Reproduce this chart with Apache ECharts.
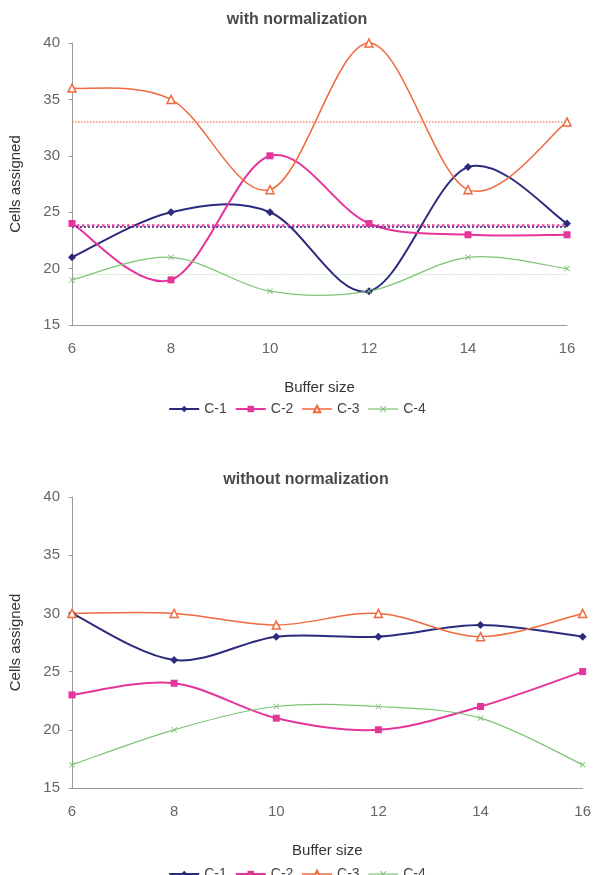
<!DOCTYPE html>
<html>
<head>
<meta charset="utf-8">
<script src="https://cdn.jsdelivr.net/npm/echarts@6/dist/echarts.min.js"></script>
<style>
  html, body { margin: 0; padding: 0; background: #fff; }
  #chart { width: 594px; height: 875px; }
</style>
</head>
<body>
<div id="chart"></div>
<script>
// buffer sizes on the x axis
const bufferSizes = [6, 8, 10, 12, 14, 16];
const seriesNames = ["C-1", "C-2", "C-3", "C-4"];

// with normalization
const withC1 = [21, 25, 25, 18, 29, 24];
const withC2 = [24, 19, 30, 24, 23, 23];
const withC3 = [36, 35, 27, 40, 27, 33];
const withC4 = [19, 21, 18, 18, 21, 20];

// without normalization
const withoutC1 = [30, 26, 28, 28, 29, 28];
const withoutC2 = [23, 24, 21, 20, 22, 25];
const withoutC3 = [30, 30, 29, 30, 28, 30];
const withoutC4 = [17, 20, 22, 22, 21, 17];

const colors = ["#2b2a7c", "#e6359a", "#ef6a3e", "#7cc474"];
const lineWidths = [2, 2, 1.5, 1.2];
const crossPath = "path://M0,1L1,0L5,4L9,0L10,1L6,5L10,9L9,10L5,6L1,10L0,9L4,5Z";
const font = "Liberation Sans, Arial, sans-serif";

function pairs(values) {
  return bufferSizes.map((x, i) => [x, values[i]]);
}

// spline like the spreadsheet one (catmull-rom), drawn segment by segment
function splineRenderer(values, color, width) {
  const n = values.length;
  const clamp = k => Math.max(0, Math.min(n - 1, k));
  return function (params, api) {
    const i = params.dataIndex;
    if (i >= n - 1) return null;
    const p = k => api.coord([bufferSizes[clamp(k)], values[clamp(k)]]);
    const p0 = p(i - 1), p1 = p(i), p2 = p(i + 1), p3 = p(i + 2);
    return {
      type: "bezierCurve",
      shape: {
        x1: p1[0], y1: p1[1],
        x2: p2[0], y2: p2[1],
        cpx1: p1[0] + (p2[0] - p0[0]) / 6,
        cpy1: p1[1] + (p2[1] - p0[1]) / 6,
        cpx2: p2[0] - (p3[0] - p1[0]) / 6,
        cpy2: p2[1] - (p3[1] - p1[1]) / 6
      },
      style: { stroke: color, lineWidth: width, fill: null },
      silent: true
    };
  };
}

// markers (line series with hidden line) + the curve as a custom series
function makeSeries(idx, values, axis, showAvg) {
  const styles = [
    { symbol: "diamond", symbolSize: 8, item: { color: colors[0] } },
    { symbol: "rect", symbolSize: 7, item: { color: colors[1] } },
    { symbol: "triangle", symbolSize: 8,
      item: { color: "#fff", borderColor: colors[2], borderWidth: 1.5 } },
    { symbol: crossPath, symbolSize: 6, item: { color: colors[3] } }
  ];
  const s = styles[idx];
  const avgWidth = [2, 2.5, 1.5, 1.2];
  const avgOpacity = [0.8, 0.9, 0.8, 0.5];
  const marks = {
    name: seriesNames[idx],
    type: "line",
    xAxisIndex: axis,
    yAxisIndex: axis,
    symbol: s.symbol,
    symbolSize: s.symbolSize,
    showSymbol: true,
    lineStyle: { color: colors[idx], width: lineWidths[idx], opacity: 0 },
    itemStyle: s.item,
    data: pairs(values),
    z: 5 + idx
  };
  if (showAvg) {
    marks.markLine = {
      silent: true,
      symbol: "none",
      label: { show: false },
      lineStyle: {
        color: colors[idx],
        type: "dotted",
        width: avgWidth[idx],
        opacity: avgOpacity[idx]
      },
      data: [{ type: "average" }]
    };
  }
  const curve = {
    name: seriesNames[idx],
    type: "custom",
    coordinateSystem: "cartesian2d",
    xAxisIndex: axis,
    yAxisIndex: axis,
    renderItem: splineRenderer(values, colors[idx], lineWidths[idx]),
    data: pairs(values),
    z: 2 + idx
  };
  return [marks, curve];
}

function xAxisFor(gridIndex) {
  return {
    type: "value",
    gridIndex: gridIndex,
    min: 6,
    max: 16,
    interval: 2,
    name: "Buffer size",
    nameLocation: "middle",
    nameGap: 55,
    nameTextStyle: { fontFamily: font, fontSize: 15, color: "#333" },
    axisLine: { show: true, lineStyle: { color: "#9a9a9a", width: 1 } },
    axisTick: { show: false },
    splitLine: { show: false },
    axisLabel: { fontFamily: font, fontSize: 15, color: "#666", margin: 16 }
  };
}

function yAxisFor(gridIndex) {
  return {
    type: "value",
    gridIndex: gridIndex,
    min: 15,
    max: 40,
    interval: 5,
    name: "Cells assigned",
    nameLocation: "middle",
    nameGap: 49,
    nameTextStyle: { fontFamily: font, fontSize: 15, color: "#333" },
    axisLine: { show: true, lineStyle: { color: "#9a9a9a", width: 1 } },
    axisTick: { show: true, length: 3, lineStyle: { color: "#9a9a9a" } },
    splitLine: { show: false },
    axisLabel: { fontFamily: font, fontSize: 15, color: "#666", margin: 12 }
  };
}

function legendFor(top) {
  return {
    data: seriesNames.map((name, i) => ({
      name: name,
      lineStyle: { color: colors[i], width: lineWidths[i], opacity: 1 }
    })),
    top: top,
    left: "center",
    itemWidth: 30,
    itemHeight: 8,
    itemGap: 8,
    textStyle: { fontFamily: font, fontSize: 14, color: "#444" }
  };
}

const chart = echarts.init(document.getElementById("chart"));

chart.setOption({
  animation: false,
  backgroundColor: "#fff",
  title: [
    {
      text: "with normalization",
      left: 292,
      top: 7,
      textAlign: "center",
      textStyle: { fontFamily: font, fontSize: 16, fontWeight: "bold", color: "#4a4a4a" }
    },
    {
      text: "without normalization",
      left: 301,
      top: 467,
      textAlign: "center",
      textStyle: { fontFamily: font, fontSize: 16, fontWeight: "bold", color: "#4a4a4a" }
    }
  ],
  legend: [legendFor(397), legendFor(862)],
  grid: [
    { left: 67, right: 27, top: 43, height: 282, containLabel: false },
    { left: 69, right: 11, top: 497, height: 291, containLabel: false }
  ],
  xAxis: [xAxisFor(0), xAxisFor(1)],
  yAxis: [yAxisFor(0), yAxisFor(1)],
  series: [].concat(
    makeSeries(0, withC1, 0, true),
    makeSeries(1, withC2, 0, true),
    makeSeries(2, withC3, 0, true),
    makeSeries(3, withC4, 0, true),
    makeSeries(0, withoutC1, 1, false),
    makeSeries(1, withoutC2, 1, false),
    makeSeries(2, withoutC3, 1, false),
    makeSeries(3, withoutC4, 1, false)
  )
});
</script>
</body>
</html>
